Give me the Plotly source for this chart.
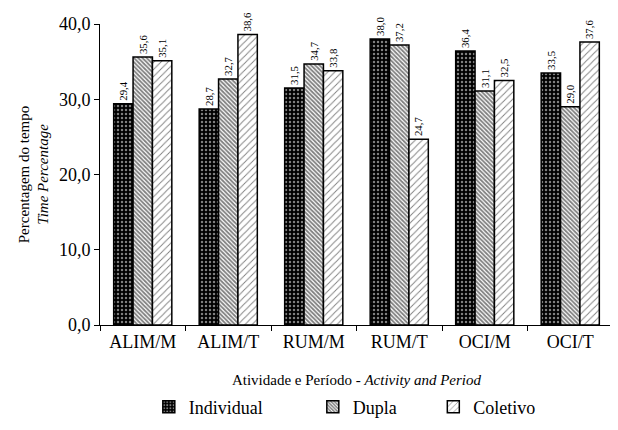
import plotly.graph_objects as go

categories = ["ALIM/M", "ALIM/T", "RUM/M", "RUM/T", "OCI/M", "OCI/T"]
individual = [29.4, 28.7, 31.5, 38.0, 36.4, 33.5]
dupla = [35.6, 32.7, 34.7, 37.2, 31.1, 29.0]
coletivo = [35.1, 38.6, 33.8, 24.7, 32.5, 37.6]
series_names = ["Individual", "Dupla", "Coletivo"]
y_ticks = [0, 10, 20, 30, 40]

FONT = "Times New Roman, Liberation Serif, serif"

patterns = [
    dict(shape=".", fgcolor="white", bgcolor="black", size=4, solidity=0.3),
    dict(shape="\\", fgcolor="black", bgcolor="white", size=3, solidity=0.6),
    dict(shape="/", fgcolor="black", bgcolor="white", size=5, solidity=0.18),
]
legend_names = ["Individual" + "\u00a0" * 10, "Dupla" + "\u00a0" * 7, "Coletivo"]

fig = go.Figure()
for name, lname, vals, pat in zip(series_names, legend_names, [individual, dupla, coletivo], patterns):
    fig.add_trace(go.Bar(
        x=categories, y=vals, name=lname,
        marker=dict(color="white", pattern=pat, line=dict(color="black", width=1.5)),
        text=[f"{v:.1f}".replace(".", ",") for v in vals],
        textposition="outside", textangle=-90,
        textfont=dict(family=FONT, size=13, color="black"),
        cliponaxis=False,
    ))

fig.update_layout(
    width=618, height=430,
    barmode="group", bargap=0.32, bargroupgap=0,
    separators=",.",
    plot_bgcolor="white", paper_bgcolor="white",
    font=dict(family=FONT, color="black"),
    margin=dict(l=92, r=13, t=16, b=113),
    xaxis=dict(
        showline=True, linecolor="black", linewidth=1,
        ticks="outside", tickson="boundaries", ticklen=5, tickcolor="black",
        tickfont=dict(size=18, family=FONT),
        automargin=False,
        title=dict(text="Atividade e Período - <i>Activity and Period</i>",
                   font=dict(size=15, family=FONT), standoff=25),
    ),
    yaxis=dict(
        range=[0, 40], tickvals=y_ticks, tickformat=".1f",
        showline=True, linecolor="black", linewidth=1,
        ticks="outside", ticklen=5, tickcolor="black",
        showgrid=False, zeroline=False,
        automargin=False,
        tickfont=dict(size=18, family=FONT),
        title=dict(text="Percentagem do tempo<br><i>Time Percentage</i>",
                   font=dict(size=15, family=FONT), standoff=6),
    ),
    legend=dict(
        orientation="h", xref="container", x=0.545, xanchor="center",
        yref="container", y=1 - 399 / 430, yanchor="middle",
        font=dict(size=18, family=FONT), traceorder="normal",
        itemwidth=30,
    ),
    uniformtext=dict(minsize=8, mode="show"),
)

fig.write_html("out.html")
